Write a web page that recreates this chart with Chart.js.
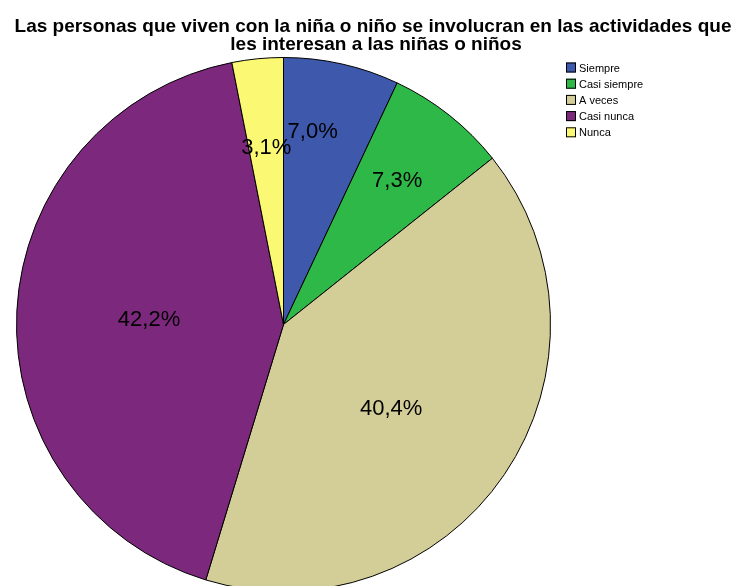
<!DOCTYPE html>
<html>
<head>
<meta charset="utf-8">
<script src="https://cdn.jsdelivr.net/npm/chart.js@4.4.0/dist/chart.umd.min.js"></script>
<style>
  html, body { margin: 0; padding: 0; background: #fff; overflow: hidden; }
  #wrap { width: 737px; height: 640px; }
</style>
</head>
<body>
<div id="wrap"><canvas id="grafico" width="737" height="640"></canvas></div>
<script>
// datos
const categorias = ["Siempre", "Casi siempre", "A veces", "Casi nunca", "Nunca"];
const porcentajes = [7.0, 7.3, 40.4, 42.2, 3.1];
const colores = ["#3e58ac", "#2eb848", "#d3ce97", "#7c287d", "#fbf873"];
const tituloLineas = [
  "Las personas que viven con la niña o niño se involucran en las actividades que",
  "les interesan a las niñas o niños"
];

// ajustes de posicion de las etiquetas (fraccion del radio, giro en grados)
const radioEtiqueta = [0.73, 0.686, 0.513, 0.504, 0.665];
const giroEtiqueta = [-4, 0, 4, -1, 0];

const FUENTE = "'Liberation Sans', Arial, sans-serif";

const pluginTextos = {
  id: "textos",
  afterDatasetsDraw(chart) {
    const ctx = chart.ctx;
    const meta = chart.getDatasetMeta(0);
    ctx.save();
    // etiquetas de porcentaje
    ctx.font = "22px " + FUENTE;
    ctx.fillStyle = "#000";
    ctx.textAlign = "center";
    ctx.textBaseline = "middle";
    meta.data.forEach((arco, i) => {
      const p = arco.getProps(["x", "y", "startAngle", "endAngle", "outerRadius"], true);
      const medio = (p.startAngle + p.endAngle) / 2 + giroEtiqueta[i] * Math.PI / 180;
      const r = p.outerRadius * radioEtiqueta[i];
      const x = p.x + Math.cos(medio) * r;
      const y = p.y + Math.sin(medio) * r;
      ctx.fillText(porcentajes[i].toFixed(1).replace(".", ",") + "%", x, y);
    });

    // titulo
    ctx.font = "bold 19px " + FUENTE;
    ctx.textBaseline = "alphabetic";
    ctx.fillText(tituloLineas[0], 373, 32);
    ctx.fillText(tituloLineas[1], 376, 50);

    // leyenda
    ctx.font = "11px " + FUENTE;
    ctx.textAlign = "left";
    ctx.textBaseline = "middle";
    categorias.forEach((c, i) => {
      const y = 67.5 + i * 16.2;
      ctx.fillStyle = colores[i];
      ctx.fillRect(566, y - 5, 10, 10);
      ctx.strokeStyle = "#000";
      ctx.lineWidth = 1;
      ctx.strokeRect(566.5, y - 4.5, 9, 9);
      ctx.fillStyle = "#000";
      ctx.fillText(c, 579, y + 1);
    });
    ctx.restore();
  }
};

new Chart(document.getElementById("grafico").getContext("2d"), {
  type: "pie",
  data: {
    labels: categorias,
    datasets: [{
      data: porcentajes,
      backgroundColor: colores,
      borderColor: "#000",
      borderWidth: 1
    }]
  },
  options: {
    responsive: false,
    animation: false,
    layout: { padding: { left: 16, top: 57, right: 186, bottom: 48 } },
    plugins: {
      legend: { display: false },
      title: { display: false },
      tooltip: { enabled: false }
    }
  },
  plugins: [pluginTextos]
});
</script>
</body>
</html>
